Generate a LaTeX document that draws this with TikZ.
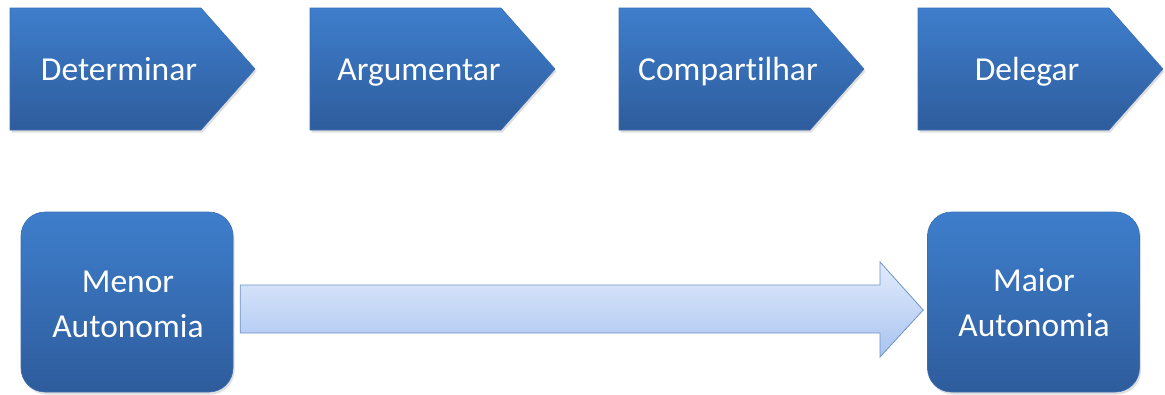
\documentclass[tikz,border=0pt]{standalone}
\usepackage{fontspec}
\setmainfont{Carlito}[Ligatures=NoCommon]
\usetikzlibrary{calc,shadows}
\definecolor{btop}{RGB}{62,126,204}
\definecolor{bbot}{RGB}{46,92,156}
\definecolor{bedge}{RGB}{58,110,180}
\definecolor{atop}{RGB}{226,235,252}
\definecolor{abot}{RGB}{168,196,240}
\definecolor{aedge}{RGB}{110,148,200}
\tikzset{
  chev/.style={top color=btop,bottom color=bbot,draw=bedge,line width=0.6pt,
    drop shadow={shadow xshift=1.5pt,shadow yshift=-2.5pt,opacity=0.25}},
  lbl/.style={text=white,font=\fontsize{33.5}{45}\selectfont,inner sep=0pt,align=center},
  rbox/.style={top color=btop,bottom color=bbot,draw=bedge,line width=0.6pt,
    rounded corners=24pt,minimum width=212pt,minimum height=180pt,inner sep=0pt,
    drop shadow={shadow xshift=1.5pt,shadow yshift=-2.5pt,opacity=0.25}},
  barrow/.style={top color=atop,bottom color=abot,draw=aedge,line width=0.8pt}
}
\begin{document}
\begin{tikzpicture}[x=1pt,y=-1pt]
\useasboundingbox (0,0) rectangle (1165,394);
% chevrons
\foreach \l/\t/\n in {10/Determinar/d,310/Argumentar/a,619/Compartilhar/c,918/Delegar/g}{
  \path[chev] (\l,8) -- ++(191,0) -- ++(54,61) -- ++(-54,61) -- ++(-191,0) -- cycle;
  \node[lbl,anchor=base] (\n) at (\l+109,80) {\t};
}
% rounded boxes
\node[rbox] (menor) at (127,302) {};
\node[rbox] (maior) at (1033.5,302) {};
\node[lbl,anchor=north] (menort) at (128,270.5) {Menor\\Autonomia};
\node[lbl,anchor=north] (maiort) at (1034,268) {Maior\\Autonomia};
% block arrow
\coordinate (s) at ($(menor.east)+(7,0)$);
\coordinate (e) at ($(maior.west)+(-4,8)$);
\path[barrow] ($(s)+(0,-17)$) -- (880,285) -- (880,262) -- (e) -- (880,357) -- (880,333) -- ($(s)+(0,31)$) -- cycle;
\end{tikzpicture}
\end{document}
